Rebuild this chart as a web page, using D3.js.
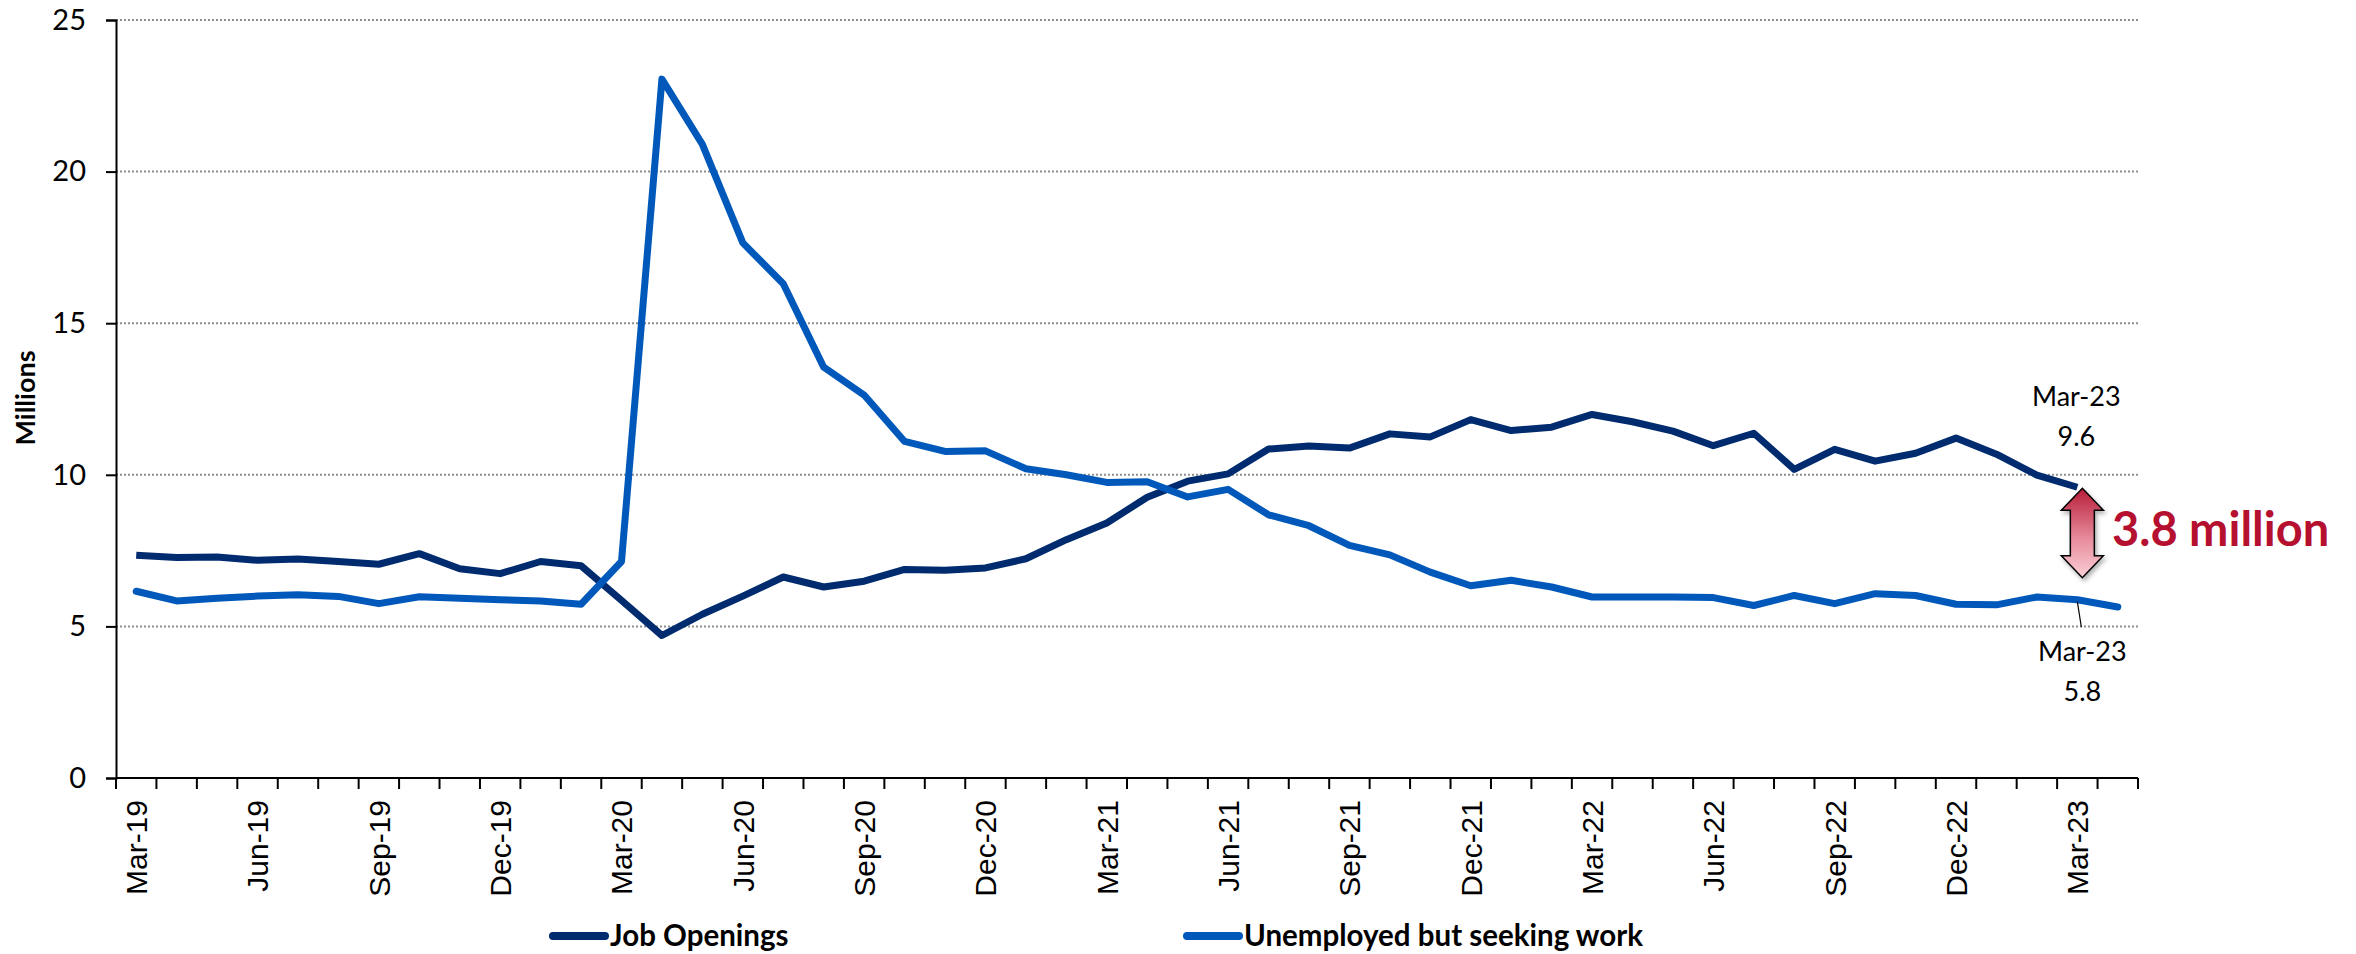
<!DOCTYPE html>
<html>
<head>
<meta charset="utf-8">
<script src="https://cdn.jsdelivr.net/npm/d3@7"></script>
<style>
  body { margin: 0; background: #fff; }
  svg { display: block; }
  .calib { font-family: Lato, "Open Sans", sans-serif; }
  .xlab { font-family: "Liberation Sans", Arial, sans-serif; }
</style>
</head>
<body>
<svg id="chart" width="2356" height="954"></svg>
<script>
// months on the x axis, Mar-19 .. Apr-23
const months = [
  "Mar-19","Apr-19","May-19","Jun-19","Jul-19","Aug-19","Sep-19","Oct-19","Nov-19","Dec-19",
  "Jan-20","Feb-20","Mar-20","Apr-20","May-20","Jun-20","Jul-20","Aug-20","Sep-20","Oct-20","Nov-20","Dec-20",
  "Jan-21","Feb-21","Mar-21","Apr-21","May-21","Jun-21","Jul-21","Aug-21","Sep-21","Oct-21","Nov-21","Dec-21",
  "Jan-22","Feb-22","Mar-22","Apr-22","May-22","Jun-22","Jul-22","Aug-22","Sep-22","Oct-22","Nov-22","Dec-22",
  "Jan-23","Feb-23","Mar-23","Apr-23"
];

// job openings, millions (Mar-19 .. Mar-23)
const jobOpenings = [
  7.35, 7.27, 7.29, 7.18, 7.22, 7.14, 7.05, 7.40, 6.90, 6.74,
  7.14, 7.00, 5.86, 4.70, 5.40, 6.00, 6.63, 6.30, 6.49, 6.88, 6.85, 6.93,
  7.23, 7.86, 8.41, 9.26, 9.79, 10.03, 10.85, 10.95, 10.88, 11.35, 11.25, 11.82,
  11.46, 11.57, 11.99, 11.75, 11.44, 10.96, 11.37, 10.18, 10.84, 10.45, 10.71, 11.21,
  10.68, 9.99, 9.59
];

// unemployed but seeking work, millions (Mar-19 .. Apr-23)
const unemployed = [
  6.16, 5.84, 5.93, 6.00, 6.04, 5.99, 5.75, 5.98, 5.93, 5.88,
  5.84, 5.73, 7.14, 23.05, 20.90, 17.65, 16.30, 13.55, 12.63, 11.10, 10.77, 10.79,
  10.20, 10.00, 9.75, 9.77, 9.27, 9.52, 8.68, 8.32, 7.67, 7.36, 6.79, 6.34,
  6.52, 6.30, 5.97, 5.97, 5.97, 5.95, 5.69, 6.02, 5.75, 6.08, 6.02, 5.73,
  5.71, 5.97, 5.88, 5.64
];

const yTicks = [0, 5, 10, 15, 20, 25];
const xLabelMonths = months.filter(m => /^(Mar|Jun|Sep|Dec)/.test(m));

const seriesNames = ["Job Openings", "Unemployed but seeking work"];
const seriesColors = ["#002b6f", "#0059ba"];

// annotation texts
const endLabelJobs = ["Mar-23", "9.6"];
const endLabelUnemp = ["Mar-23", "5.8"];
const gapLabel = "3.8 million";

const svg = d3.select("#chart");

let x = d3.scaleBand().domain(months).range([116, 2138]).padding(0);
let y = d3.scaleLinear().domain([0, 25]).range([778, 20]);
let cx = d => x(d) + x.bandwidth() / 2;

// gridlines
svg.append("g")
    .selectAll("line")
    .data(yTicks.filter(t => t > 0))
    .enter().append("line")
    .attr("x1", 116).attr("x2", 2138)
    .attr("y1", d => y(d)).attr("y2", d => y(d))
    .attr("stroke", "#8f8f8f")
    .attr("stroke-width", 2)
    .attr("stroke-dasharray", "2 2");

// y axis
let yAxis = d3.axisLeft(y).tickValues(yTicks).tickSize(10).tickPadding(20);
let gy = svg.append("g")
    .attr("transform", "translate(116,0)")
    .call(yAxis);
gy.select(".domain").attr("stroke", "#000").attr("stroke-width", 2);
gy.selectAll(".tick line").attr("stroke", "#000").attr("stroke-width", 2);
gy.selectAll(".tick text")
    .attr("class", "calib")
    .style("font-size", "29px")
    .attr("fill", "#000");

svg.append("text")
    .attr("class", "calib")
    .attr("transform", "translate(35,398) rotate(-90)")
    .attr("text-anchor", "middle")
    .style("font-size", "27px")
    .style("font-weight", "bold")
    .text("Millions");

// x axis: ticks on month boundaries, labels every quarter
let gx = svg.append("g").attr("transform", "translate(0,778)");
gx.append("line")
    .attr("x1", 116).attr("x2", 2138)
    .attr("stroke", "#000").attr("stroke-width", 2);
gx.selectAll(".mtick")
    .data(months.concat(["end"]))
    .enter().append("line")
    .attr("class", "mtick")
    .attr("x1", (d, i) => 116 + i * x.bandwidth())
    .attr("x2", (d, i) => 116 + i * x.bandwidth())
    .attr("y1", 0).attr("y2", 11)
    .attr("stroke", "#000").attr("stroke-width", 2);

let xAxis = d3.axisBottom(x).tickValues(xLabelMonths).tickSize(0);
let gxl = svg.append("g").attr("transform", "translate(0,778)").call(xAxis);
gxl.select(".domain").remove();
gxl.selectAll(".tick text")
    .attr("class", "xlab")
    .style("font-size", "30px")
    .attr("fill", "#000")
    .attr("transform", "rotate(-90)")
    .attr("x", -22)
    .attr("y", 0)
    .attr("dy", "0.36em")
    .style("text-anchor", "end");

// lines
let line = d3.line()
    .x((d, i) => cx(months[i]))
    .y(d => y(d));

svg.append("path")
    .datum(jobOpenings)
    .attr("d", line)
    .attr("fill", "none")
    .attr("stroke", seriesColors[0])
    .attr("stroke-width", 7)
    .attr("stroke-linejoin", "round");

svg.append("path")
    .datum(unemployed)
    .attr("d", line)
    .attr("fill", "none")
    .attr("stroke", seriesColors[1])
    .attr("stroke-width", 7)
    .attr("stroke-linejoin", "round")
    .attr("stroke-linecap", "round");

// end labels
let lastJob = jobOpenings.length - 1;
let jx = cx(months[lastJob]);
svg.append("g")
    .selectAll("text")
    .data(endLabelJobs)
    .enter().append("text")
    .attr("class", "calib")
    .attr("x", jx - 1)
    .attr("y", (d, i) => 406 + i * 40)
    .attr("text-anchor", "middle")
    .style("font-size", "27px")
    .text(d => d);

let uy = y(unemployed[lastJob]);
svg.append("line")
    .attr("x1", jx).attr("y1", uy + 2)
    .attr("x2", jx + 4).attr("y2", 627)
    .attr("stroke", "#000").attr("stroke-width", 1.2);

svg.append("g")
    .selectAll("text")
    .data(endLabelUnemp)
    .enter().append("text")
    .attr("class", "calib")
    .attr("x", jx + 5)
    .attr("y", (d, i) => 661 + i * 40)
    .attr("text-anchor", "middle")
    .style("font-size", "27px")
    .text(d => d);

// double arrow showing the gap
let defs = svg.append("defs");
let grad = defs.append("linearGradient")
    .attr("id", "arrowGrad")
    .attr("x1", 0).attr("y1", 0).attr("x2", 0).attr("y2", 1);
grad.append("stop").attr("offset", "0%").attr("stop-color", "#b71c37");
grad.append("stop").attr("offset", "55%").attr("stop-color", "#e6899a");
grad.append("stop").attr("offset", "100%").attr("stop-color", "#fbd0d7");

let shadow = defs.append("filter").attr("id", "shadow")
    .attr("x", "-50%").attr("y", "-20%").attr("width", "200%").attr("height", "140%");
shadow.append("feDropShadow")
    .attr("dx", 2).attr("dy", 3).attr("stdDeviation", 2)
    .attr("flood-color", "#000").attr("flood-opacity", 0.3);

let ax = jx + 5;
let arrowTop = y(jobOpenings[lastJob]) + 1;
let arrowBot = y(unemployed[lastJob]) - 22;
let hw = 21, sw = 12, hh = 22;
let arrow = d3.path();
arrow.moveTo(ax, arrowTop);
arrow.lineTo(ax + hw, arrowTop + hh);
arrow.lineTo(ax + sw, arrowTop + hh);
arrow.lineTo(ax + sw, arrowBot - hh);
arrow.lineTo(ax + hw, arrowBot - hh);
arrow.lineTo(ax, arrowBot);
arrow.lineTo(ax - hw, arrowBot - hh);
arrow.lineTo(ax - sw, arrowBot - hh);
arrow.lineTo(ax - sw, arrowTop + hh);
arrow.lineTo(ax - hw, arrowTop + hh);
arrow.closePath();

svg.append("path")
    .attr("d", arrow.toString())
    .attr("fill", "url(#arrowGrad)")
    .attr("stroke", "#000")
    .attr("stroke-width", 1.5)
    .attr("filter", "url(#shadow)");

svg.append("text")
    .attr("class", "calib")
    .attr("x", 2112)
    .attr("y", 546)
    .style("font-size", "47px")
    .style("font-weight", "bold")
    .attr("fill", "#b5102f")
    .text(gapLabel);

// legend
let legendX = [553, 1187];
let legend = svg.append("g")
    .selectAll("g")
    .data(seriesNames)
    .enter().append("g")
    .attr("transform", (d, i) => "translate(" + legendX[i] + ",936)");

legend.append("line")
    .attr("x1", 0).attr("x2", 52)
    .attr("stroke", (d, i) => seriesColors[i])
    .attr("stroke-width", 8)
    .attr("stroke-linecap", "round");

legend.append("text")
    .attr("class", "calib")
    .attr("x", 57)
    .attr("y", 10)
    .style("font-size", "29.5px")
    .style("font-weight", "bold")
    .text(d => d);
</script>
</body>
</html>
